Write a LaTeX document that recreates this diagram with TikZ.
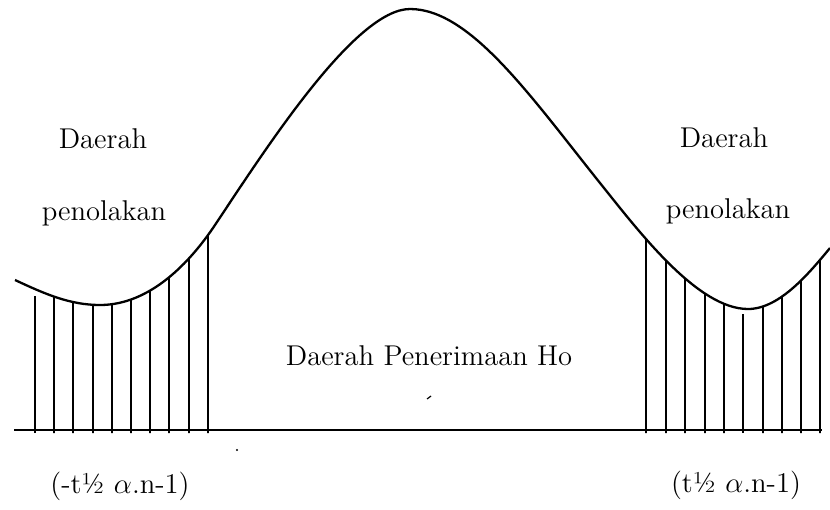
\documentclass[tikz,border=0pt]{standalone}
\usepackage{fontspec}
\usetikzlibrary{intersections}
\begin{document}
\begin{tikzpicture}[x=0.5pt,y=-0.5pt,
  curveline/.style={line width=1.15pt,line join=round},
  hatch/.style={line width=0.8pt},
  axisline/.style={line width=1pt},
  lbl/.style={font=\fontsize{14.3pt}{17pt}\selectfont,anchor=base,inner sep=0pt}]
\useasboundingbox (0,0) rectangle (830,509);
% curve
\draw[curveline,name path=curve] (15,280)
  .. controls (45,294) and (70,305) .. (100,305)
  .. controls (150,305) and (190,262.5) .. (215,225)
  .. controls (265,150) and (355,9) .. (410,9)
  .. controls (470,9) and (530,95.5) .. (600,183)
  .. controls (640,233) and (698,309) .. (748,309)
  .. controls (780,309) and (810,272) .. (830,248);
% axis
\draw[axisline] (14,430) -- (822,430);
% hatching left
\draw[hatch] (35,433) -- (35,296);
\foreach \x in {54,73,93,112,131,150,169,189,208}{
  \path[name path=vl] (\x,440) -- (\x,0);
  \draw[hatch,name intersections={of=curve and vl,by=p}] (\x,433) -- (p);
}
% hatching right
\draw[hatch] (743,433) -- (743,314);
\foreach \x in {646,666,685,705,724,763,782,801,820}{
  \path[name path=vr] (\x,440) -- (\x,0);
  \draw[hatch,name intersections={of=curve and vr,by=q}] (\x,433) -- (q);
}
% labels
\node[lbl] (dl1) at (103,148) {Daerah};
\node[lbl] (dl2) at (104,220) {penolakan};
\node[lbl] (dr1) at (724,147) {Daerah};
\node[lbl] (dr2) at (728,218) {penolakan};
\node[lbl] (acc) at (429,365) {Daerah Penerimaan Ho};
\node[lbl] (tl) at (120,493) {(-t½ $\alpha$.n-1)};
\node[lbl] (tr) at (736,492) {(t½ $\alpha$.n-1)};
% scan specks
\fill (237,450) circle (1.2);
\draw[line width=0.6pt] (427,399) -- (431,396);
\end{tikzpicture}
\end{document}
